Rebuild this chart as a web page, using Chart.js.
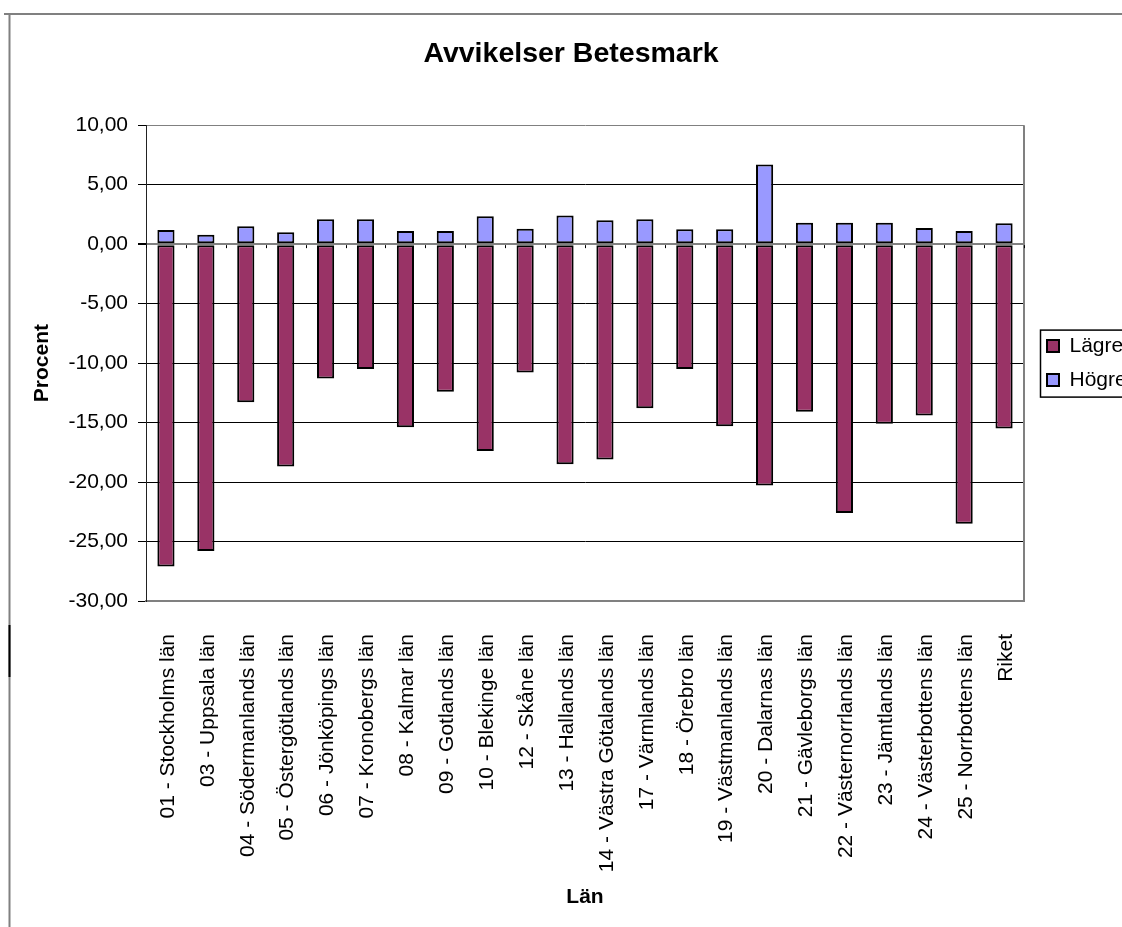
<!DOCTYPE html>
<html>
<head>
<meta charset="utf-8">
<script src="https://cdn.jsdelivr.net/npm/chart.js@4/dist/chart.umd.min.js"></script>
<style>
  html, body { margin: 0; padding: 0; background: #fff; overflow: hidden; }
  #wrap { position: relative; width: 1122px; height: 927px; }
</style>
</head>
<body>
<div id="wrap"><canvas id="c"></canvas></div>
<script>
const categories = [
  "01 - Stockholms län", "03 - Uppsala län", "04 - Södermanlands län", "05 - Östergötlands län",
  "06 - Jönköpings län", "07 - Kronobergs län", "08 - Kalmar län", "09 - Gotlands län",
  "10 - Blekinge län", "12 - Skåne län", "13 - Hallands län", "14 - Västra Götalands län",
  "17 - Värmlands län", "18 - Örebro län", "19 - Västmanlands län", "20 - Dalarnas län",
  "21 - Gävleborgs län", "22 - Västernorrlands län", "23 - Jämtlands län", "24 - Västerbottens län",
  "25 - Norrbottens län", "Riket"
];
const lagre = [-27.1, -25.8, -13.3, -18.7, -11.3, -10.5, -15.4, -12.4, -17.4, -10.8, -18.5,
               -18.1, -13.8, -10.5, -15.3, -20.3, -14.1, -22.6, -15.1, -14.4, -23.5, -15.5];
const hogre = [1.2, 0.8, 1.5, 1.0, 2.1, 2.1, 1.1, 1.1, 2.35, 1.3, 2.4,
               2.0, 2.1, 1.25, 1.25, 6.7, 1.8, 1.8, 1.8, 1.35, 1.1, 1.75];
const seriesNames = ["Lägre", "Högre"];
const yTicks = { min: -30, max: 10, step: 5 };

const FONT = "'Liberation Sans', Arial, sans-serif";

const framePlugin = {
  id: 'frame',
  beforeDraw(chart) {
    const ctx = chart.ctx;
    ctx.save();
    ctx.strokeStyle = '#808080';
    ctx.lineWidth = 2;
    ctx.beginPath();
    ctx.moveTo(4, 14); ctx.lineTo(1122, 14);
    ctx.moveTo(9.5, 14); ctx.lineTo(9.5, 927);
    ctx.stroke();
    ctx.strokeStyle = '#000';
    ctx.beginPath();
    ctx.moveTo(9.5, 625); ctx.lineTo(9.5, 677);
    ctx.stroke();
    ctx.restore();
  },
  afterLayout(chart) {
    const lg = chart.legend;
    if (lg) { lg.left += 10; lg.right = 1200; lg.width = lg.right - lg.left; }
    const tb = chart.titleBlock;
    if (tb) { tb.left += 29; tb.right += 29; }
  },
  beforeDatasetsDraw(chart) {
    const ctx = chart.ctx, a = chart.chartArea;
    const xs = chart.scales.x, ys = chart.scales.y;
    ctx.save();
    ctx.strokeStyle = '#808080';
    ctx.lineWidth = 2;
    ctx.beginPath();
    ctx.moveTo(a.right, a.top); ctx.lineTo(a.right, a.bottom);
    ctx.stroke();
    const half = (xs.getPixelForValue(1) - xs.getPixelForValue(0)) / 2;
    const y0 = ys.getPixelForValue(0);
    ctx.strokeStyle = '#000';
    ctx.lineWidth = 1;
    ctx.beginPath();
    for (let i = 0; i <= categories.length; i++) {
      const x = Math.round(xs.getPixelForValue(i) - half) + 0.5;
      ctx.moveTo(x, y0 + 1); ctx.lineTo(x, y0 + 4);
    }
    ctx.stroke();
    ctx.restore();
  },
  afterDraw(chart) {
    const lg = chart.legend;
    if (!lg || !lg.legendHitBoxes || !lg.legendHitBoxes.length) return;
    const hb = lg.legendHitBoxes;
    const first = hb[0], last = hb[hb.length - 1];
    const ctx = chart.ctx;
    ctx.save();
    ctx.strokeStyle = '#000';
    ctx.lineWidth = 1.5;
    const top = first.top - 5.5, bottom = last.top + last.height + 6.5;
    ctx.strokeRect(first.left - 6.5, top, 200, bottom - top);
    ctx.restore();
  }
};

new Chart(document.getElementById('c'), {
  type: 'bar',
  data: {
    labels: categories,
    datasets: [
      { label: seriesNames[0], data: lagre, backgroundColor: '#993366', borderColor: '#000',
        borderWidth: 2, borderSkipped: false, barPercentage: 0.43, categoryPercentage: 1 },
      { label: seriesNames[1], data: hogre, backgroundColor: '#9999FF', borderColor: '#000',
        borderWidth: 2, borderSkipped: false, barPercentage: 0.43, categoryPercentage: 1 }
    ]
  },
  options: {
    responsive: true,
    maintainAspectRatio: false,
    animation: false,
    layout: { padding: { left: 0, right: 38, top: 0, bottom: 0 } },
    plugins: {
      title: {
        display: true, text: 'Avvikelser Betesmark', color: '#000',
        font: { family: FONT, size: 28.5, weight: 'bold' },
        padding: { top: 37, bottom: 54 }
      },
      legend: {
        position: 'right', fullSize: false, maxWidth: 60,
        labels: { color: '#000', font: { family: FONT, size: 21 }, boxWidth: 12, boxHeight: 12, padding: 13 }
      },
      tooltip: { enabled: false }
    },
    scales: {
      x: {
        stacked: true,
        grid: { display: false, drawTicks: false },
        border: { display: true, color: '#808080', width: 2 },
        ticks: { color: '#000', font: { family: FONT, size: 21 }, minRotation: 90, maxRotation: 90,
                 padding: 33, autoSkip: false, labelOffset: 2 },
        title: { display: true, text: 'Län', color: '#000', font: { family: FONT, size: 21, weight: 'bold' },
                 padding: { top: 0, bottom: 17 } },
        afterFit(s) { s.height = 326; }
      },
      y: {
        stacked: true,
        min: yTicks.min, max: yTicks.max,
        ticks: { stepSize: yTicks.step, color: '#000', font: { family: FONT, size: 21 }, padding: 10,
                 callback: v => v.toFixed(2).replace('.', ',') },
        grid: {
          color: c => (c.tick && (c.tick.value === 0 || c.tick.value === 10 || c.tick.value === -30)) ? '#808080' : '#000',
          lineWidth: c => (c.tick && c.tick.value === 0) ? 2 : 1,
          tickColor: '#000', tickLength: 8
        },
        border: { color: '#222', width: 1 },
        title: { display: true, text: 'Procent', color: '#000', font: { family: FONT, size: 21, weight: 'bold' },
                 padding: { top: 30 } },
        afterFit(s) { s.width = 146; }
      }
    }
  },
  plugins: [framePlugin]
});
</script>
</body>
</html>
